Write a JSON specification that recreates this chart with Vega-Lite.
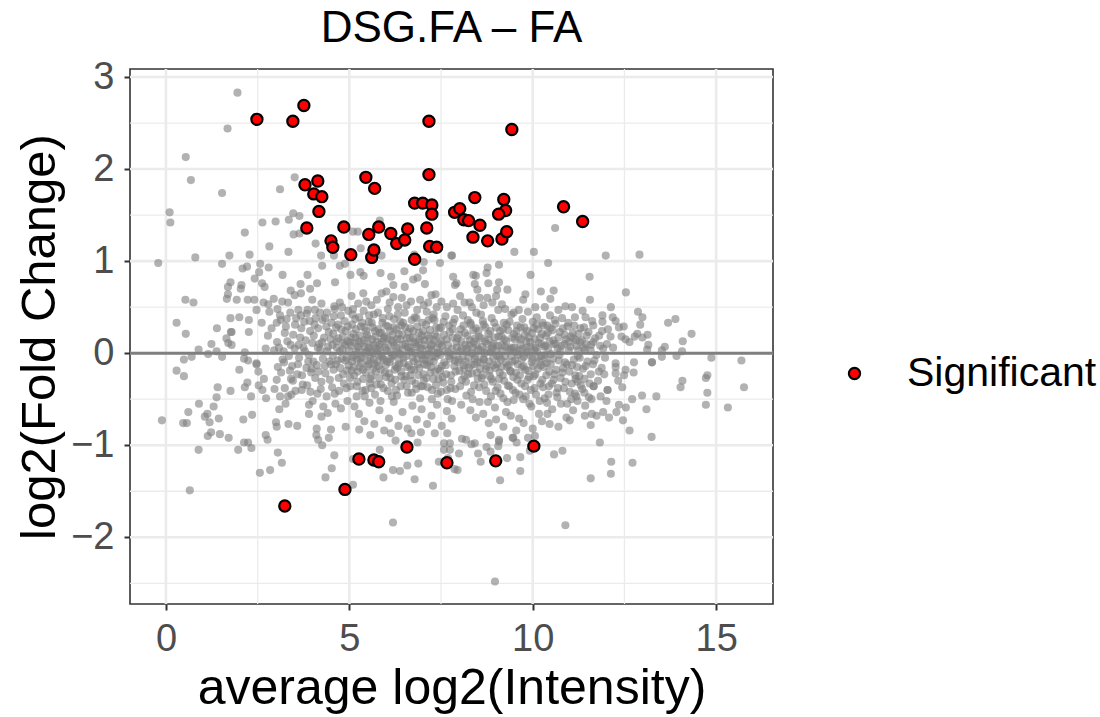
{"$schema":"https://vega.github.io/schema/vega-lite/v6.json","width":643,"height":535,"autosize":"none","padding":{"left":130,"top":69,"right":327,"bottom":113},"background":"white","title":{"text":"DSG.FA – FA","font":"Liberation Sans","fontSize":44,"fontWeight":"normal","color":"black","anchor":"middle","offset":7},"config":{"view":{"stroke":"#333333","strokeWidth":1.6}},"datasets":{"grid_major_x":[{"v":0},{"v":5},{"v":10},{"v":15}],"grid_minor_x":[{"v":2.5},{"v":7.5},{"v":12.5}],"grid_major_y":[{"v":3},{"v":2},{"v":1},{"v":0},{"v":-1},{"v":-2}],"grid_minor_y":[{"v":2.5},{"v":1.5},{"v":0.5},{"v":-0.5},{"v":-1.5},{"v":-2.5}],"zero":[{"v":0}],"sig":[{"a":2.48,"m":2.54,"s":"Significant"},{"a":3.46,"m":2.52,"s":"Significant"},{"a":3.76,"m":2.69,"s":"Significant"},{"a":7.17,"m":2.52,"s":"Significant"},{"a":9.43,"m":2.43,"s":"Significant"},{"a":7.17,"m":1.94,"s":"Significant"},{"a":5.45,"m":1.91,"s":"Significant"},{"a":5.69,"m":1.79,"s":"Significant"},{"a":4.14,"m":1.87,"s":"Significant"},{"a":3.79,"m":1.83,"s":"Significant"},{"a":4.03,"m":1.73,"s":"Significant"},{"a":4.25,"m":1.7,"s":"Significant"},{"a":4.17,"m":1.54,"s":"Significant"},{"a":3.84,"m":1.36,"s":"Significant"},{"a":4.85,"m":1.37,"s":"Significant"},{"a":4.5,"m":1.22,"s":"Significant"},{"a":4.55,"m":1.15,"s":"Significant"},{"a":5.04,"m":1.07,"s":"Significant"},{"a":5.53,"m":1.29,"s":"Significant"},{"a":5.8,"m":1.37,"s":"Significant"},{"a":6.13,"m":1.3,"s":"Significant"},{"a":6.29,"m":1.19,"s":"Significant"},{"a":6.51,"m":1.23,"s":"Significant"},{"a":6.59,"m":1.35,"s":"Significant"},{"a":5.61,"m":1.04,"s":"Significant"},{"a":5.67,"m":1.12,"s":"Significant"},{"a":6.78,"m":1.02,"s":"Significant"},{"a":6.78,"m":1.63,"s":"Significant"},{"a":7.0,"m":1.63,"s":"Significant"},{"a":7.25,"m":1.61,"s":"Significant"},{"a":7.25,"m":1.51,"s":"Significant"},{"a":7.11,"m":1.36,"s":"Significant"},{"a":7.19,"m":1.16,"s":"Significant"},{"a":7.38,"m":1.15,"s":"Significant"},{"a":7.87,"m":1.53,"s":"Significant"},{"a":8.01,"m":1.57,"s":"Significant"},{"a":8.12,"m":1.45,"s":"Significant"},{"a":8.25,"m":1.44,"s":"Significant"},{"a":8.42,"m":1.69,"s":"Significant"},{"a":9.21,"m":1.67,"s":"Significant"},{"a":9.26,"m":1.55,"s":"Significant"},{"a":9.07,"m":1.51,"s":"Significant"},{"a":8.56,"m":1.39,"s":"Significant"},{"a":8.37,"m":1.26,"s":"Significant"},{"a":8.77,"m":1.22,"s":"Significant"},{"a":9.16,"m":1.24,"s":"Significant"},{"a":9.29,"m":1.32,"s":"Significant"},{"a":10.84,"m":1.59,"s":"Significant"},{"a":11.36,"m":1.43,"s":"Significant"},{"a":3.24,"m":-1.66,"s":"Significant"},{"a":4.88,"m":-1.48,"s":"Significant"},{"a":5.26,"m":-1.15,"s":"Significant"},{"a":5.67,"m":-1.16,"s":"Significant"},{"a":5.8,"m":-1.18,"s":"Significant"},{"a":6.57,"m":-1.02,"s":"Significant"},{"a":7.66,"m":-1.19,"s":"Significant"},{"a":8.99,"m":-1.17,"s":"Significant"},{"a":10.03,"m":-1.01,"s":"Significant"}],"ns":[{"a":1.95,"m":2.83},{"a":1.68,"m":2.44},{"a":0.54,"m":2.13},{"a":0.68,"m":1.88},{"a":1.53,"m":1.74},{"a":0.1,"m":1.53},{"a":0.12,"m":1.42},{"a":-0.21,"m":0.98},{"a":0.8,"m":1.04},{"a":1.73,"m":1.06},{"a":1.53,"m":0.97},{"a":2.28,"m":1.07},{"a":2.15,"m":1.31},{"a":2.82,"m":1.16},{"a":2.63,"m":1.42},{"a":2.99,"m":1.43},{"a":3.11,"m":1.78},{"a":3.51,"m":1.91},{"a":3.47,"m":1.52},{"a":3.64,"m":1.49},{"a":3.35,"m":1.45},{"a":3.48,"m":1.29},{"a":3.64,"m":1.3},{"a":3.34,"m":1.1},{"a":4.08,"m":1.19},{"a":4.23,"m":1.06},{"a":4.58,"m":1.06},{"a":4.26,"m":0.95},{"a":4.74,"m":0.95},{"a":4.88,"m":0.97},{"a":2.57,"m":0.97},{"a":2.21,"m":0.94},{"a":2.09,"m":0.92},{"a":2.8,"m":0.93},{"a":2.54,"m":0.88},{"a":2.42,"m":0.81},{"a":3.18,"m":0.85},{"a":3.86,"m":0.85},{"a":2.62,"m":0.76},{"a":2.69,"m":0.72},{"a":2.06,"m":0.74},{"a":2.04,"m":0.7},{"a":1.76,"m":0.77},{"a":1.69,"m":0.72},{"a":1.69,"m":0.64},{"a":1.66,"m":0.59},{"a":1.93,"m":0.58},{"a":2.23,"m":0.58},{"a":2.41,"m":0.58},{"a":0.53,"m":0.58},{"a":0.75,"m":0.55},{"a":0.29,"m":0.33},{"a":0.54,"m":0.21},{"a":1.39,"m":0.27},{"a":1.76,"m":0.38},{"a":2.0,"m":0.39},{"a":2.26,"m":0.36},{"a":1.79,"m":0.23},{"a":2.26,"m":0.23},{"a":5.1,"m":1.32},{"a":5.23,"m":1.32},{"a":5.31,"m":1.14},{"a":5.83,"m":1.44},{"a":5.88,"m":1.06},{"a":5.03,"m":0.85},{"a":5.3,"m":0.88},{"a":5.39,"m":0.84},{"a":5.85,"m":0.87},{"a":6.14,"m":0.83},{"a":6.2,"m":0.74},{"a":6.5,"m":0.89},{"a":6.51,"m":0.72},{"a":6.74,"m":0.8},{"a":6.86,"m":0.82},{"a":7.01,"m":0.9},{"a":7.03,"m":0.99},{"a":7.47,"m":0.98},{"a":7.78,"m":1.06},{"a":6.77,"m":1.07},{"a":7.06,"m":0.75},{"a":7.24,"m":0.63},{"a":7.35,"m":0.64},{"a":7.83,"m":0.83},{"a":7.88,"m":0.74},{"a":4.61,"m":0.77},{"a":4.12,"m":0.76},{"a":3.93,"m":0.7},{"a":3.67,"m":0.75},{"a":3.4,"m":0.68},{"a":3.68,"m":0.65},{"a":10.61,"m":1.36},{"a":9.5,"m":1.1},{"a":10.03,"m":1.1},{"a":11.99,"m":1.06},{"a":12.91,"m":1.07},{"a":10.42,"m":0.98},{"a":9.08,"m":0.96},{"a":8.77,"m":0.93},{"a":8.74,"m":0.87},{"a":8.38,"m":0.85},{"a":8.45,"m":0.84},{"a":7.8,"m":1.06},{"a":9.94,"m":0.85},{"a":11.55,"m":0.83},{"a":7.92,"m":0.76},{"a":8.42,"m":0.75},{"a":8.79,"m":0.76},{"a":9.08,"m":0.77},{"a":8.49,"m":0.69},{"a":9.03,"m":0.69},{"a":9.31,"m":0.69},{"a":10.57,"m":0.68},{"a":10.22,"m":0.67},{"a":12.54,"m":0.66},{"a":9.8,"m":0.64},{"a":9.74,"m":0.58},{"a":10.48,"m":0.59},{"a":11.56,"m":0.58},{"a":12.13,"m":0.5},{"a":10.89,"m":0.51},{"a":11.07,"m":0.5},{"a":10.7,"m":0.47},{"a":10.33,"m":0.5},{"a":10.07,"m":0.5},{"a":9.16,"m":0.53},{"a":11.36,"m":0.46},{"a":12.87,"m":0.45},{"a":12.99,"m":0.39},{"a":13.89,"m":0.37},{"a":13.69,"m":0.33},{"a":12.93,"m":0.31},{"a":11.9,"m":0.41},{"a":12.18,"m":0.39},{"a":11.44,"m":0.39},{"a":11.15,"m":0.39},{"a":14.33,"m":0.21},{"a":14.09,"m":0.13},{"a":13.6,"m":0.07},{"a":13.52,"m":0.03},{"a":13.12,"m":0.04},{"a":13.15,"m":0.09},{"a":13.13,"m":0.2},{"a":12.85,"m":0.21},{"a":12.78,"m":0.18},{"a":12.99,"m":0.17},{"a":12.64,"m":0.12},{"a":12.53,"m":0.15},{"a":12.42,"m":0.18},{"a":12.48,"m":0.29},{"a":12.35,"m":0.28},{"a":12.26,"m":0.35},{"a":11.9,"m":0.34},{"a":11.62,"m":0.35},{"a":11.65,"m":0.3},{"a":12.05,"m":0.26},{"a":11.89,"m":0.24},{"a":12.12,"m":0.18},{"a":11.81,"m":0.19},{"a":11.65,"m":0.12},{"a":11.42,"m":0.04},{"a":11.92,"m":0.05},{"a":12.19,"m":0.06},{"a":13.52,"m":-0.04},{"a":13.92,"m":-0.03},{"a":14.07,"m":0.02},{"a":14.87,"m":-0.05},{"a":15.69,"m":-0.08},{"a":13.25,"m":-0.1},{"a":13.25,"m":-0.1},{"a":12.76,"m":-0.1},{"a":12.26,"m":-0.11},{"a":12.26,"m":-0.15},{"a":12.53,"m":-0.18},{"a":12.75,"m":-0.21},{"a":12.49,"m":-0.24},{"a":12.26,"m":-0.22},{"a":12.33,"m":-0.3},{"a":12.44,"m":-0.37},{"a":14.08,"m":-0.3},{"a":14.03,"m":-0.37},{"a":14.72,"m":-0.27},{"a":14.76,"m":-0.24},{"a":15.76,"m":-0.37},{"a":14.76,"m":-0.43},{"a":14.72,"m":-0.56},{"a":15.32,"m":-0.59},{"a":13.37,"m":-0.47},{"a":12.98,"m":-0.46},{"a":12.71,"m":-0.5},{"a":13.1,"m":-0.61},{"a":12.54,"m":-0.59},{"a":12.46,"m":-0.73},{"a":12.64,"m":-0.84},{"a":13.24,"m":-0.91},{"a":12.04,"m":-0.4},{"a":12.04,"m":-0.4},{"a":11.66,"m":-0.36},{"a":11.66,"m":-0.36},{"a":11.95,"m":-0.23},{"a":11.8,"m":-0.2},{"a":11.58,"m":-0.23},{"a":11.41,"m":-0.28},{"a":11.22,"m":-0.31},{"a":11.41,"m":-0.43},{"a":11.19,"m":-0.47},{"a":11.6,"m":-0.5},{"a":11.85,"m":-0.47},{"a":12.01,"m":-0.52},{"a":12.35,"m":-0.56},{"a":12.28,"m":-0.64},{"a":11.92,"m":-0.64},{"a":11.74,"m":-0.68},{"a":11.42,"m":-0.68},{"a":11.58,"m":-0.78},{"a":11.01,"m":-0.73},{"a":10.46,"m":-0.77},{"a":10.06,"m":-0.9},{"a":9.87,"m":-0.92},{"a":9.47,"m":-0.92},{"a":9.08,"m":-0.94},{"a":11.83,"m":-0.97},{"a":10.58,"m":-1.1},{"a":10.81,"m":-1.06},{"a":12.14,"m":-1.18},{"a":12.72,"m":-1.19},{"a":12.13,"m":-1.31},{"a":11.58,"m":-1.36},{"a":10.89,"m":-1.87},{"a":8.97,"m":-2.48},{"a":9.66,"m":-1.28},{"a":9.66,"m":-1.13},{"a":9.3,"m":-1.14},{"a":9.11,"m":-1.38},{"a":8.58,"m":-1.18},{"a":8.51,"m":-1.09},{"a":7.95,"m":-1.27},{"a":7.99,"m":-1.09},{"a":9.06,"m":-1.01},{"a":9.08,"m":-0.96},{"a":8.85,"m":-1.07},{"a":8.74,"m":-1.02},{"a":8.42,"m":-0.98},{"a":8.33,"m":-0.99},{"a":8.18,"m":-0.94},{"a":8.07,"m":-0.93},{"a":8.85,"m":-0.89},{"a":9.45,"m":-0.92},{"a":9.56,"m":-0.97},{"a":9.92,"m":-1.06},{"a":7.74,"m":-0.98},{"a":0.65,"m":-1.49},{"a":0.89,"m":-1.05},{"a":1.14,"m":-0.9},{"a":1.23,"m":-0.86},{"a":1.47,"m":-0.88},{"a":1.71,"m":-0.92},{"a":1.97,"m":-1.05},{"a":2.13,"m":-0.97},{"a":2.24,"m":-0.97},{"a":2.33,"m":-1.03},{"a":2.72,"m":-0.89},{"a":2.77,"m":-0.94},{"a":3.05,"m":-1.08},{"a":3.16,"m":-1.19},{"a":2.56,"m":-1.3},{"a":2.84,"m":-1.27},{"a":4.1,"m":-0.89},{"a":4.15,"m":-0.94},{"a":4.26,"m":-1.0},{"a":4.44,"m":-0.92},{"a":4.59,"m":-1.11},{"a":4.52,"m":-1.25},{"a":4.35,"m":-1.35},{"a":5.1,"m":-1.43},{"a":5.1,"m":-1.15},{"a":5.57,"m":-0.89},{"a":5.83,"m":-1.05},{"a":6.26,"m":-0.95},{"a":6.19,"m":-1.27},{"a":6.38,"m":-1.28},{"a":5.93,"m":-1.35},{"a":6.58,"m":-1.22},{"a":6.88,"m":-1.2},{"a":6.78,"m":-1.37},{"a":6.86,"m":-0.97},{"a":7.28,"m":-1.44},{"a":7.44,"m":-1.18},{"a":6.19,"m":-1.84},{"a":7.58,"m":-0.98},{"a":7.74,"m":-1.05},{"a":7.58,"m":-1.05},{"a":7.69,"m":-1.14},{"a":7.87,"m":-1.26},{"a":6.69,"m":-0.87},{"a":6.95,"m":-0.86},{"a":7.33,"m":-0.87},{"a":7.67,"m":-0.87},{"a":6.13,"m":-0.87},{"a":0.89,"m":0.04},{"a":1.24,"m":0.1},{"a":0.7,"m":-0.04},{"a":0.49,"m":-0.07},{"a":0.29,"m":-0.19},{"a":0.49,"m":-0.25},{"a":1.15,"m":-0.01},{"a":1.38,"m":0.02},{"a":1.53,"m":-0.04},{"a":1.65,"m":0.16},{"a":1.7,"m":0.11},{"a":1.79,"m":0.09},{"a":1.77,"m":0.23},{"a":2.15,"m":0.01},{"a":2.13,"m":-0.06},{"a":2.24,"m":-0.08},{"a":2.0,"m":-0.18},{"a":2.47,"m":-0.12},{"a":2.47,"m":-0.11},{"a":2.52,"m":-0.2},{"a":2.67,"m":-0.28},{"a":2.53,"m":-0.35},{"a":2.22,"m":-0.32},{"a":2.15,"m":-0.37},{"a":1.41,"m":-0.37},{"a":1.76,"m":-0.41},{"a":1.38,"m":-0.48},{"a":0.9,"m":-0.55},{"a":1.3,"m":-0.58},{"a":0.61,"m":-0.64},{"a":1.13,"m":-0.66},{"a":1.06,"m":-0.69},{"a":1.19,"m":-0.75},{"a":1.44,"m":-0.71},{"a":-0.11,"m":-0.73},{"a":0.47,"m":-0.76},{"a":0.57,"m":-0.76},{"a":2.11,"m":-0.72},{"a":2.35,"m":-0.67},{"a":2.32,"m":-0.47},{"a":2.63,"m":-0.4},{"a":2.73,"m":-0.49},{"a":2.96,"m":-0.39},{"a":3.02,"m":-0.29},{"a":3.24,"m":-0.38},{"a":3.11,"m":-0.47},{"a":3.33,"m":-0.47},{"a":3.42,"m":-0.45},{"a":3.26,"m":-0.55},{"a":3.09,"m":-0.61},{"a":3.0,"m":-0.75},{"a":3.02,"m":-0.8},{"a":3.34,"m":-0.77},{"a":3.58,"m":-0.79},{"a":3.9,"m":-0.56},{"a":3.9,"m":-0.66},{"a":4.13,"m":-0.44},{"a":4.24,"m":-0.69},{"a":4.29,"m":-0.58},{"a":4.41,"m":-0.65},{"a":4.11,"m":-0.82},{"a":4.5,"m":-0.83},{"a":4.9,"m":-0.8},{"a":5.27,"m":-0.83},{"a":4.95,"m":-0.52},{"a":5.42,"m":-0.47},{"a":2.94,"m":0.59},{"a":2.66,"m":0.55},{"a":2.79,"m":0.53},{"a":2.47,"m":0.47},{"a":2.82,"m":0.45},{"a":3.04,"m":0.48},{"a":3.17,"m":0.56},{"a":3.33,"m":0.55},{"a":3.51,"m":0.63},{"a":3.61,"m":0.47},{"a":3.86,"m":0.47},{"a":3.99,"m":0.58},{"a":4.24,"m":0.54},{"a":4.6,"m":0.48},{"a":4.74,"m":0.55},{"a":5.06,"m":0.62},{"a":5.24,"m":0.54},{"a":5.38,"m":0.65},{"a":5.88,"m":0.65},{"a":6.01,"m":0.67},{"a":6.2,"m":0.61},{"a":6.33,"m":0.5},{"a":6.68,"m":0.56},{"a":7.03,"m":0.52},{"a":7.38,"m":0.5},{"a":7.51,"m":0.56},{"a":7.83,"m":0.54},{"a":2.61,"m":0.33},{"a":2.78,"m":0.19},{"a":2.88,"m":0.27},{"a":3.02,"m":0.33},{"a":3.13,"m":0.36},{"a":3.24,"m":0.22},{"a":3.4,"m":0.09},{"a":3.52,"m":0.31},{"a":3.66,"m":0.17},{"a":3.77,"m":0.34},{"a":3.93,"m":0.24},{"a":3.99,"m":0.11},{"a":4.08,"m":0.38},{"a":4.21,"m":0.04},{"a":4.37,"m":0.29},{"a":4.49,"m":0.15},{"a":4.58,"m":0.4},{"a":4.66,"m":0.06},{"a":4.78,"m":0.26},{"a":4.87,"m":0.35},{"a":4.95,"m":0.13},{"a":2.72,"m":0.05},{"a":2.95,"m":0.03},{"a":3.08,"m":0.06},{"a":3.21,"m":0.02},{"a":3.35,"m":-0.03},{"a":3.51,"m":0.05},{"a":3.63,"m":-0.05},{"a":3.79,"m":0.02},{"a":3.9,"m":-0.02},{"a":4.02,"m":-0.09},{"a":4.14,"m":0.06},{"a":4.28,"m":-0.06},{"a":4.4,"m":0.02},{"a":4.55,"m":-0.03},{"a":4.68,"m":-0.08},{"a":4.81,"m":0.04},{"a":4.93,"m":-0.05},{"a":3.05,"m":-0.15},{"a":3.22,"m":-0.1},{"a":3.38,"m":-0.19},{"a":3.46,"m":-0.3},{"a":3.6,"m":-0.12},{"a":3.71,"m":-0.24},{"a":3.85,"m":-0.35},{"a":3.97,"m":-0.17},{"a":4.07,"m":-0.27},{"a":4.22,"m":-0.39},{"a":4.33,"m":-0.14},{"a":4.47,"m":-0.29},{"a":4.57,"m":-0.18},{"a":4.72,"m":-0.41},{"a":4.83,"m":-0.23},{"a":4.98,"m":-0.13},{"a":3.7,"m":-0.4},{"a":4.0,"m":-0.52},{"a":4.62,"m":-0.55},{"a":4.77,"m":-0.6},{"a":5.03,"m":-0.36},{"a":5.14,"m":-0.58},{"a":5.26,"m":-0.66},{"a":5.41,"m":-0.74},{"a":5.55,"m":-0.54},{"a":5.68,"m":-0.77},{"a":5.82,"m":-0.62},{"a":5.95,"m":-0.84},{"a":6.08,"m":-0.71},{"a":6.21,"m":-0.53},{"a":6.34,"m":-0.79},{"a":6.45,"m":-0.64},{"a":6.59,"m":-0.82},{"a":6.72,"m":-0.57},{"a":6.84,"m":-0.72},{"a":6.97,"m":-0.61},{"a":7.12,"m":-0.77},{"a":7.24,"m":-0.68},{"a":7.39,"m":-0.56},{"a":7.52,"m":-0.79},{"a":7.66,"m":-0.63},{"a":7.79,"m":-0.71},{"a":5.05,"m":0.08},{"a":5.08,"m":-0.09},{"a":5.11,"m":0.21},{"a":5.13,"m":-0.24},{"a":5.16,"m":0.37},{"a":5.19,"m":0.02},{"a":5.22,"m":-0.31},{"a":5.25,"m":0.13},{"a":5.28,"m":-0.15},{"a":5.31,"m":0.29},{"a":5.34,"m":-0.04},{"a":5.36,"m":-0.41},{"a":5.39,"m":0.46},{"a":5.42,"m":0.07},{"a":5.45,"m":-0.21},{"a":5.48,"m":0.2},{"a":5.51,"m":-0.08},{"a":5.53,"m":0.34},{"a":5.56,"m":-0.33},{"a":5.59,"m":0.01},{"a":5.62,"m":0.15},{"a":5.65,"m":-0.17},{"a":5.67,"m":0.42},{"a":5.7,"m":-0.45},{"a":5.73,"m":0.05},{"a":5.76,"m":-0.1},{"a":5.79,"m":0.26},{"a":5.81,"m":-0.27},{"a":5.84,"m":0.1},{"a":5.87,"m":-0.03},{"a":5.9,"m":0.33},{"a":5.93,"m":-0.38},{"a":5.96,"m":0.18},{"a":5.99,"m":-0.13},{"a":6.02,"m":0.03},{"a":6.05,"m":0.48},{"a":6.08,"m":-0.22},{"a":6.11,"m":0.24},{"a":6.13,"m":-0.06},{"a":6.16,"m":-0.47},{"a":6.19,"m":0.12},{"a":6.22,"m":0.37},{"a":6.25,"m":-0.29},{"a":6.28,"m":0.06},{"a":6.31,"m":-0.16},{"a":6.34,"m":0.21},{"a":6.37,"m":-0.01},{"a":6.4,"m":-0.36},{"a":6.42,"m":0.3},{"a":6.45,"m":0.09},{"a":6.48,"m":-0.11},{"a":6.51,"m":0.44},{"a":6.54,"m":-0.25},{"a":6.57,"m":0.16},{"a":6.6,"m":-0.43},{"a":6.63,"m":0.02},{"a":6.66,"m":0.27},{"a":6.69,"m":-0.18},{"a":6.72,"m":-0.05},{"a":6.75,"m":0.12},{"a":6.78,"m":0.39},{"a":6.81,"m":-0.33},{"a":6.84,"m":0.07},{"a":6.87,"m":-0.12},{"a":6.9,"m":0.22},{"a":6.93,"m":-0.49},{"a":6.96,"m":-0.02},{"a":6.99,"m":0.33},{"a":7.02,"m":-0.23},{"a":7.05,"m":0.14},{"a":7.08,"m":-0.08},{"a":7.11,"m":0.45},{"a":7.14,"m":-0.37},{"a":7.17,"m":0.04},{"a":7.2,"m":0.25},{"a":7.23,"m":-0.15},{"a":7.26,"m":0.1},{"a":7.29,"m":-0.28},{"a":7.32,"m":0.36},{"a":7.35,"m":-0.04},{"a":7.38,"m":0.18},{"a":7.41,"m":-0.44},{"a":7.44,"m":0.01},{"a":7.47,"m":-0.19},{"a":7.5,"m":0.28},{"a":7.53,"m":0.08},{"a":7.56,"m":-0.32},{"a":7.59,"m":-0.1},{"a":7.62,"m":0.4},{"a":7.65,"m":0.15},{"a":7.68,"m":-0.5},{"a":7.71,"m":-0.03},{"a":7.74,"m":0.23},{"a":7.77,"m":-0.24},{"a":7.8,"m":0.05},{"a":7.83,"m":0.33},{"a":7.86,"m":-0.14},{"a":7.89,"m":-0.39},{"a":7.92,"m":0.12},{"a":7.95,"m":0.47},{"a":7.98,"m":-0.07},{"a":8.01,"m":0.02},{"a":8.04,"m":0.26},{"a":8.07,"m":-0.29},{"a":8.1,"m":0.41},{"a":8.13,"m":-0.17},{"a":8.16,"m":0.09},{"a":8.19,"m":-0.46},{"a":8.22,"m":0.19},{"a":8.25,"m":-0.05},{"a":8.28,"m":0.55},{"a":8.31,"m":0.31},{"a":8.34,"m":-0.22},{"a":8.37,"m":0.06},{"a":8.4,"m":-0.35},{"a":8.43,"m":0.16},{"a":8.46,"m":0.44},{"a":8.49,"m":-0.1},{"a":8.52,"m":0.24},{"a":8.55,"m":-0.53},{"a":8.58,"m":0.03},{"a":8.61,"m":-0.27},{"a":8.64,"m":0.35},{"a":8.67,"m":-0.07},{"a":8.7,"m":0.13},{"a":8.73,"m":-0.41},{"a":8.76,"m":0.6},{"a":8.79,"m":0.21},{"a":8.82,"m":-0.19},{"a":8.85,"m":0.01},{"a":8.88,"m":0.38},{"a":8.91,"m":-0.31},{"a":8.94,"m":0.1},{"a":8.97,"m":-0.59},{"a":9.0,"m":0.28},{"a":9.03,"m":-0.12},{"a":9.06,"m":0.47},{"a":9.09,"m":-0.04},{"a":9.12,"m":-0.44},{"a":9.15,"m":0.18},{"a":9.18,"m":-0.24},{"a":9.21,"m":0.33},{"a":9.24,"m":0.07},{"a":9.27,"m":-0.64},{"a":9.3,"m":-0.15},{"a":9.33,"m":0.25},{"a":9.36,"m":-0.36},{"a":9.39,"m":0.04},{"a":9.42,"m":0.42},{"a":9.45,"m":-0.09},{"a":9.48,"m":-0.51},{"a":9.51,"m":0.15},{"a":9.54,"m":-0.21},{"a":9.57,"m":0.3},{"a":9.6,"m":-0.02},{"a":9.63,"m":-0.71},{"a":9.66,"m":0.09},{"a":9.69,"m":-0.33},{"a":9.72,"m":0.37},{"a":9.75,"m":-0.14},{"a":9.78,"m":0.2},{"a":9.81,"m":-0.47},{"a":9.84,"m":0.01},{"a":9.87,"m":0.45},{"a":9.9,"m":-0.26},{"a":9.93,"m":0.12},{"a":9.96,"m":-0.58},{"a":9.99,"m":-0.06},{"a":10.02,"m":0.27},{"a":10.05,"m":-0.38},{"a":10.08,"m":0.06},{"a":10.11,"m":0.39},{"a":10.14,"m":-0.17},{"a":10.17,"m":-0.66},{"a":10.2,"m":0.17},{"a":10.23,"m":-0.03},{"a":10.26,"m":-0.29},{"a":10.29,"m":0.3},{"a":10.32,"m":-0.49},{"a":10.35,"m":0.08},{"a":10.38,"m":-0.11},{"a":10.41,"m":0.22},{"a":10.44,"m":-0.36},{"a":10.47,"m":0.41},{"a":10.5,"m":-0.01},{"a":10.53,"m":-0.61},{"a":10.56,"m":0.14},{"a":10.59,"m":-0.23},{"a":10.62,"m":0.32},{"a":10.65,"m":-0.43},{"a":10.68,"m":0.05},{"a":10.71,"m":-0.08},{"a":10.74,"m":0.23},{"a":10.77,"m":-0.55},{"a":10.8,"m":0.38},{"a":10.83,"m":-0.16},{"a":10.86,"m":0.1},{"a":10.89,"m":-0.31},{"a":10.92,"m":-0.7},{"a":10.95,"m":0.29},{"a":10.98,"m":0.03},{"a":11.01,"m":-0.42},{"a":11.04,"m":0.18},{"a":11.07,"m":-0.13},{"a":11.1,"m":-0.62},{"a":11.13,"m":0.3},{"a":11.16,"m":-0.24},{"a":11.19,"m":0.08},{"a":11.22,"m":-0.52},{"a":11.25,"m":0.21},{"a":11.28,"m":-0.05},{"a":11.31,"m":-0.35},{"a":11.34,"m":0.14},{"a":11.37,"m":-0.17},{"a":11.4,"m":0.28},{"a":11.43,"m":-0.57},{"a":11.46,"m":0.1},{"a":11.49,"m":-0.09},{"a":11.52,"m":0.23},{"a":11.55,"m":-0.33},{"a":11.58,"m":0.03},{"a":11.61,"m":-0.66},{"a":11.64,"m":-0.12},{"a":11.7,"m":0.16},{"a":11.74,"m":-0.02},{"a":11.78,"m":-0.3},{"a":11.84,"m":0.08},{"a":11.88,"m":-0.16},{"a":11.97,"m":-0.05},{"a":12.02,"m":0.1},{"a":12.08,"m":-0.7},{"a":5.1,"m":0.48},{"a":5.46,"m":0.56},{"a":5.6,"m":0.52},{"a":5.75,"m":0.58},{"a":6.1,"m":0.55},{"a":6.43,"m":0.6},{"a":6.56,"m":0.52},{"a":6.85,"m":0.47},{"a":6.93,"m":0.58},{"a":7.15,"m":0.55},{"a":7.3,"m":0.42},{"a":7.66,"m":0.5},{"a":8.02,"m":0.62},{"a":8.14,"m":0.55},{"a":8.34,"m":0.5},{"a":8.55,"m":0.6},{"a":8.66,"m":0.52},{"a":8.9,"m":0.55},{"a":9.0,"m":0.62},{"a":9.25,"m":0.48},{"a":9.48,"m":0.44},{"a":9.62,"m":0.47},{"a":5.2,"m":-0.47},{"a":5.6,"m":-0.38},{"a":5.85,"m":-0.52},{"a":6.05,"m":-0.41},{"a":6.3,"m":-0.46},{"a":6.7,"m":-0.43},{"a":7.0,"m":-0.36},{"a":7.25,"m":-0.5},{"a":7.5,"m":-0.42},{"a":7.8,"m":-0.52},{"a":8.05,"m":-0.56},{"a":8.3,"m":-0.62},{"a":8.45,"m":-0.7},{"a":8.65,"m":-0.66},{"a":8.8,"m":-0.76},{"a":9.0,"m":-0.72},{"a":9.2,"m":-0.8},{"a":9.4,"m":-0.68},{"a":9.55,"m":-0.84},{"a":9.75,"m":-0.76},{"a":10.0,"m":-0.82},{"a":10.25,"m":-0.74},{"a":10.4,"m":-0.66},{"a":10.7,"m":-0.8},{"a":3.03,"m":0.12},{"a":3.11,"m":0.41},{"a":3.18,"m":-0.07},{"a":3.27,"m":0.29},{"a":3.31,"m":0.13},{"a":3.39,"m":0.44},{"a":3.44,"m":-0.14},{"a":3.47,"m":0.2},{"a":3.55,"m":0.38},{"a":3.58,"m":-0.23},{"a":3.62,"m":0.09},{"a":3.69,"m":0.27},{"a":3.73,"m":-0.34},{"a":3.81,"m":0.14},{"a":3.84,"m":0.43},{"a":3.88,"m":-0.09},{"a":3.92,"m":0.35},{"a":3.96,"m":-0.21},{"a":4.03,"m":0.19},{"a":4.06,"m":0.47},{"a":4.11,"m":-0.13},{"a":4.15,"m":0.27},{"a":4.18,"m":0.1},{"a":4.24,"m":-0.31},{"a":4.27,"m":0.36},{"a":4.31,"m":0.17},{"a":4.35,"m":-0.22},{"a":4.39,"m":0.44},{"a":4.42,"m":0.07},{"a":4.46,"m":-0.09},{"a":4.51,"m":0.33},{"a":4.53,"m":-0.37},{"a":4.56,"m":0.21},{"a":4.59,"m":0.51},{"a":4.63,"m":-0.12},{"a":4.65,"m":0.13},{"a":4.69,"m":0.31},{"a":4.71,"m":-0.27},{"a":4.74,"m":0.02},{"a":4.77,"m":0.41},{"a":4.79,"m":-0.06},{"a":4.82,"m":0.18},{"a":4.85,"m":-0.33},{"a":4.88,"m":0.09},{"a":4.9,"m":0.24},{"a":4.94,"m":-0.19},{"a":4.97,"m":0.46},{"a":4.99,"m":0.03},{"a":5.02,"m":-0.27},{"a":5.04,"m":0.17},{"a":5.07,"m":0.31},{"a":5.09,"m":-0.04},{"a":5.12,"m":-0.15},{"a":5.15,"m":0.11},{"a":5.18,"m":0.26},{"a":5.21,"m":-0.07},{"a":5.23,"m":-0.2},{"a":5.26,"m":0.04},{"a":5.29,"m":0.19},{"a":5.32,"m":-0.11},{"a":5.35,"m":0.33},{"a":5.38,"m":-0.28},{"a":5.4,"m":0.14},{"a":5.43,"m":0.0},{"a":5.46,"m":0.24},{"a":5.49,"m":-0.14},{"a":5.52,"m":0.06},{"a":5.54,"m":0.41},{"a":5.57,"m":-0.05},{"a":5.6,"m":-0.25},{"a":5.63,"m":0.28},{"a":5.66,"m":0.09},{"a":5.68,"m":-0.12},{"a":5.71,"m":0.18},{"a":5.74,"m":-0.34},{"a":5.77,"m":0.03},{"a":5.8,"m":-0.02},{"a":5.83,"m":0.22},{"a":5.86,"m":-0.18},{"a":5.89,"m":0.13},{"a":5.91,"m":0.38},{"a":5.94,"m":-0.07},{"a":5.97,"m":0.06},{"a":6.0,"m":-0.26},{"a":6.03,"m":0.16},{"a":6.06,"m":0.29},{"a":6.09,"m":-0.1},{"a":6.12,"m":0.01},{"a":6.15,"m":-0.33},{"a":6.18,"m":0.2},{"a":6.2,"m":-0.02},{"a":6.23,"m":0.08},{"a":6.26,"m":-0.14},{"a":6.29,"m":0.26},{"a":6.32,"m":0.42},{"a":6.35,"m":-0.07},{"a":6.38,"m":0.15},{"a":6.41,"m":-0.2},{"a":6.44,"m":0.04},{"a":6.47,"m":0.33},{"a":6.5,"m":-0.29},{"a":6.53,"m":0.1},{"a":6.55,"m":-0.03},{"a":6.58,"m":-0.15},{"a":6.61,"m":0.23},{"a":6.64,"m":0.06},{"a":6.67,"m":-0.24},{"a":6.7,"m":0.36},{"a":6.73,"m":0.17},{"a":6.76,"m":-0.09},{"a":6.79,"m":0.0},{"a":6.82,"m":-0.39},{"a":6.85,"m":0.29},{"a":6.88,"m":0.12},{"a":6.91,"m":-0.16},{"a":6.94,"m":0.05},{"a":6.97,"m":0.19},{"a":7.0,"m":-0.06},{"a":7.03,"m":-0.3},{"a":7.06,"m":0.09},{"a":7.09,"m":0.31},{"a":7.12,"m":-0.13},{"a":7.15,"m":-0.01},{"a":7.18,"m":0.16},{"a":7.21,"m":-0.21},{"a":7.24,"m":0.03},{"a":7.27,"m":0.38},{"a":7.3,"m":-0.09},{"a":7.33,"m":0.2},{"a":7.36,"m":-0.35},{"a":7.39,"m":0.06},{"a":7.42,"m":-0.17},{"a":7.45,"m":0.27},{"a":7.48,"m":-0.02},{"a":7.51,"m":0.13},{"a":7.54,"m":-0.26},{"a":7.57,"m":0.34},{"a":7.6,"m":0.02},{"a":7.63,"m":-0.13},{"a":7.66,"m":-0.4},{"a":7.69,"m":0.09},{"a":7.72,"m":0.3},{"a":7.75,"m":-0.06},{"a":7.78,"m":-0.31},{"a":7.81,"m":0.17},{"a":7.84,"m":-0.02},{"a":7.87,"m":0.37},{"a":7.9,"m":-0.2},{"a":7.93,"m":0.06},{"a":7.96,"m":-0.1},{"a":7.99,"m":0.2},{"a":8.02,"m":-0.36},{"a":8.05,"m":0.13},{"a":8.08,"m":-0.04},{"a":8.11,"m":0.3},{"a":8.14,"m":-0.25},{"a":8.17,"m":-0.09},{"a":8.2,"m":0.05},{"a":8.23,"m":0.36},{"a":8.26,"m":-0.16},{"a":8.29,"m":0.14},{"a":8.32,"m":-0.42},{"a":8.35,"m":0.0},{"a":8.38,"m":0.25},{"a":8.41,"m":-0.12},{"a":8.44,"m":-0.03},{"a":8.47,"m":0.09},{"a":8.5,"m":-0.28},{"a":8.53,"m":0.18},{"a":8.56,"m":-0.17},{"a":8.59,"m":0.42},{"a":8.62,"m":0.07},{"a":8.65,"m":-0.06},{"a":8.68,"m":-0.34},{"a":8.71,"m":0.28},{"a":8.74,"m":-0.14},{"a":8.77,"m":0.02},{"a":8.8,"m":0.15},{"a":8.83,"m":-0.25},{"a":8.86,"m":-0.47},{"a":8.89,"m":0.08},{"a":8.92,"m":-0.05},{"a":8.95,"m":0.33},{"a":8.98,"m":-0.16},{"a":9.01,"m":0.03},{"a":9.04,"m":-0.37},{"a":9.07,"m":0.18},{"a":9.1,"m":-0.21},{"a":9.13,"m":-0.07},{"a":9.16,"m":0.09},{"a":9.19,"m":0.26},{"a":9.22,"m":-0.3},{"a":9.25,"m":-0.03},{"a":9.28,"m":0.13},{"a":9.31,"m":-0.53},{"a":9.34,"m":-0.13},{"a":9.37,"m":0.34},{"a":9.4,"m":-0.2},{"a":9.43,"m":0.06},{"a":9.46,"m":-0.4},{"a":9.49,"m":0.21},{"a":9.52,"m":-0.08},{"a":9.55,"m":0.01},{"a":9.58,"m":-0.29},{"a":9.61,"m":0.17},{"a":9.64,"m":-0.45},{"a":9.67,"m":0.28},{"a":9.7,"m":-0.15},{"a":9.73,"m":0.05},{"a":9.76,"m":-0.04},{"a":9.79,"m":-0.36},{"a":9.82,"m":0.13},{"a":9.85,"m":0.24},{"a":9.88,"m":-0.19},{"a":9.91,"m":-0.55},{"a":9.94,"m":0.07},{"a":9.97,"m":-0.1},{"a":10.0,"m":0.34},{"a":10.03,"m":-0.25},{"a":10.06,"m":0.15},{"a":10.09,"m":-0.45},{"a":10.12,"m":0.02},{"a":10.15,"m":0.26},{"a":10.18,"m":-0.09},{"a":10.21,"m":-0.33},{"a":10.24,"m":0.1},{"a":10.27,"m":0.33},{"a":10.3,"m":-0.15},{"a":10.33,"m":-0.02},{"a":10.36,"m":0.19},{"a":10.39,"m":-0.54},{"a":10.42,"m":0.05},{"a":10.45,"m":-0.2},{"a":10.48,"m":0.27},{"a":10.52,"m":-0.33},{"a":10.55,"m":-0.06},{"a":10.58,"m":0.1},{"a":10.6,"m":0.36},{"a":10.64,"m":-0.18},{"a":10.67,"m":-0.48},{"a":10.7,"m":0.17},{"a":10.73,"m":-0.02},{"a":10.76,"m":-0.27},{"a":10.79,"m":0.08},{"a":10.82,"m":0.27},{"a":10.85,"m":-0.38},{"a":10.88,"m":-0.1},{"a":10.91,"m":0.15},{"a":10.94,"m":-0.55},{"a":10.97,"m":0.33},{"a":11.0,"m":-0.2},{"a":11.03,"m":0.07},{"a":11.06,"m":-0.33},{"a":11.09,"m":0.22},{"a":11.12,"m":-0.07},{"a":11.15,"m":-0.44},{"a":11.18,"m":0.14},{"a":11.21,"m":-0.15},{"a":11.24,"m":0.03},{"a":11.27,"m":-0.25},{"a":11.3,"m":0.27},{"a":11.35,"m":-0.39},{"a":11.38,"m":0.06},{"a":11.44,"m":-0.14},{"a":11.47,"m":0.19},{"a":11.53,"m":-0.48},{"a":11.59,"m":0.09},{"a":11.68,"m":-0.08},{"a":3.14,"m":-0.21},{"a":3.29,"m":0.37},{"a":3.41,"m":-0.28},{"a":3.53,"m":-0.41},{"a":3.68,"m":0.41},{"a":3.75,"m":0.06},{"a":3.83,"m":-0.16},{"a":3.94,"m":-0.42},{"a":4.05,"m":0.31},{"a":4.16,"m":-0.2},{"a":4.2,"m":0.44},{"a":4.26,"m":0.12},{"a":4.34,"m":0.38},{"a":4.38,"m":-0.47},{"a":4.44,"m":0.23},{"a":4.5,"m":-0.12},{"a":4.54,"m":0.09},{"a":4.6,"m":-0.44},{"a":4.64,"m":0.28},{"a":4.7,"m":0.16},{"a":4.75,"m":-0.16},{"a":4.8,"m":0.5},{"a":4.84,"m":0.11},{"a":4.89,"m":-0.08},{"a":4.92,"m":-0.38},{"a":4.96,"m":0.29},{"a":5.01,"m":0.12},{"a":5.06,"m":-0.19},{"a":5.09,"m":0.42},{"a":5.14,"m":-0.02},{"a":5.17,"m":0.17},{"a":5.2,"m":-0.36},{"a":5.24,"m":0.07},{"a":5.27,"m":0.39},{"a":5.3,"m":-0.06},{"a":5.33,"m":0.11},{"a":5.37,"m":-0.18},{"a":5.41,"m":0.28},{"a":5.44,"m":-0.4},{"a":5.47,"m":0.02},{"a":5.5,"m":0.16},{"a":5.53,"m":-0.12},{"a":5.55,"m":0.08},{"a":5.58,"m":-0.28},{"a":5.61,"m":0.33},{"a":5.64,"m":0.0},{"a":5.67,"m":-0.07},{"a":5.7,"m":0.24},{"a":5.72,"m":-0.2},{"a":5.75,"m":0.12},{"a":5.78,"m":0.44},{"a":5.8,"m":-0.14},{"a":5.83,"m":0.05},{"a":5.86,"m":-0.34},{"a":5.88,"m":0.22},{"a":5.91,"m":-0.05},{"a":5.94,"m":0.16},{"a":5.97,"m":-0.21},{"a":6.0,"m":0.3},{"a":6.03,"m":-0.09},{"a":6.06,"m":0.09},{"a":6.09,"m":0.4},{"a":6.12,"m":-0.27},{"a":6.15,"m":0.14},{"a":6.18,"m":-0.03},{"a":6.21,"m":0.28},{"a":6.24,"m":-0.18},{"a":6.27,"m":-0.4},{"a":6.3,"m":0.15},{"a":6.33,"m":0.01},{"a":6.36,"m":-0.12},{"a":6.39,"m":0.34},{"a":6.42,"m":-0.25},{"a":6.45,"m":0.2},{"a":6.48,"m":-0.05},{"a":6.52,"m":0.28},{"a":6.56,"m":-0.36},{"a":6.59,"m":0.07},{"a":6.62,"m":-0.13},{"a":6.65,"m":0.16},{"a":6.68,"m":0.02},{"a":6.71,"m":-0.3},{"a":6.74,"m":0.24},{"a":6.77,"m":-0.18},{"a":6.8,"m":0.1},{"a":6.83,"m":0.38},{"a":6.86,"m":-0.06},{"a":6.89,"m":-0.24},{"a":6.92,"m":0.15},{"a":6.95,"m":-0.36},{"a":6.98,"m":0.05},{"a":7.01,"m":0.24},{"a":7.04,"m":-0.12},{"a":7.07,"m":-0.02},{"a":7.1,"m":-0.27},{"a":7.13,"m":0.19},{"a":7.16,"m":0.36},{"a":7.19,"m":-0.09},{"a":7.22,"m":0.08},{"a":7.25,"m":-0.4},{"a":7.28,"m":-0.03},{"a":7.31,"m":0.14},{"a":7.34,"m":-0.2},{"a":7.37,"m":0.28},{"a":7.4,"m":0.0},{"a":7.43,"m":-0.28},{"a":7.46,"m":0.1},{"a":7.52,"m":-0.14},{"a":7.58,"m":0.2},{"a":7.64,"m":-0.23},{"a":7.7,"m":0.01},{"a":7.76,"m":-0.38},{"a":7.82,"m":0.26},{"a":7.88,"m":-0.08},{"a":7.94,"m":0.16},{"a":8.0,"m":-0.19},{"a":8.06,"m":0.05},{"a":8.12,"m":-0.13},{"a":8.15,"m":0.22},{"a":8.18,"m":-0.31},{"a":8.21,"m":0.01},{"a":8.24,"m":-0.23},{"a":8.27,"m":0.09},{"a":8.3,"m":0.33},{"a":8.33,"m":-0.13},{"a":8.36,"m":-0.5},{"a":8.39,"m":0.12},{"a":8.42,"m":-0.06},{"a":8.45,"m":0.27},{"a":8.48,"m":-0.21},{"a":8.51,"m":0.04},{"a":8.54,"m":-0.37},{"a":8.57,"m":-0.1},{"a":8.6,"m":0.16},{"a":8.63,"m":-0.24},{"a":8.66,"m":0.31},{"a":8.69,"m":0.0},{"a":8.72,"m":-0.17},{"a":8.75,"m":0.1},{"a":8.78,"m":-0.53},{"a":8.81,"m":-0.09},{"a":8.84,"m":0.24},{"a":8.87,"m":-0.28},{"a":8.9,"m":0.05},{"a":8.93,"m":-0.13},{"a":8.96,"m":0.17},{"a":8.99,"m":-0.41},{"a":9.02,"m":-0.03},{"a":9.05,"m":0.08},{"a":9.08,"m":-0.28},{"a":9.11,"m":0.24},{"a":9.14,"m":-0.15},{"a":9.17,"m":0.02},{"a":9.2,"m":-0.49},{"a":9.23,"m":0.15},{"a":9.26,"m":-0.1},{"a":9.29,"m":0.31},{"a":9.32,"m":-0.35},{"a":9.35,"m":0.05},{"a":9.38,"m":-0.19},{"a":9.41,"m":-0.03},{"a":9.44,"m":0.17},{"a":9.47,"m":-0.26},{"a":9.5,"m":0.06},{"a":9.53,"m":-0.43},{"a":9.56,"m":0.24},{"a":9.59,"m":-0.12},{"a":9.62,"m":0.03},{"a":9.65,"m":-0.24},{"a":9.68,"m":0.15},{"a":9.71,"m":-0.06},{"a":9.74,"m":-0.5},{"a":9.77,"m":0.28},{"a":9.8,"m":-0.18},{"a":9.83,"m":0.06},{"a":9.86,"m":-0.29},{"a":9.89,"m":0.17},{"a":9.92,"m":-0.02},{"a":9.95,"m":-0.4},{"a":9.98,"m":0.22},{"a":10.01,"m":-0.14},{"a":10.04,"m":0.04},{"a":10.07,"m":-0.23},{"a":10.1,"m":0.31},{"a":10.13,"m":-0.05},{"a":10.16,"m":0.11},{"a":10.19,"m":-0.52},{"a":10.22,"m":-0.13},{"a":10.25,"m":0.21},{"a":10.28,"m":-0.37},{"a":10.31,"m":0.07},{"a":10.34,"m":-0.06},{"a":10.37,"m":-0.24},{"a":10.4,"m":0.3},{"a":10.43,"m":-0.45},{"a":10.46,"m":0.13},{"a":10.49,"m":-0.12},{"a":10.54,"m":0.25},{"a":10.57,"m":-0.29},{"a":10.63,"m":0.1},{"a":10.69,"m":-0.38},{"a":10.75,"m":0.02},{"a":10.81,"m":-0.21},{"a":10.87,"m":0.2},{"a":10.93,"m":-0.12},{"a":10.99,"m":0.12},{"a":11.05,"m":-0.5},{"a":11.11,"m":0.16},{"a":11.17,"m":-0.28},{"a":11.23,"m":-0.03},{"a":11.29,"m":0.12}]},"layer":[{"data":{"name":"grid_minor_x"},"mark":{"type":"rule","color":"#EBEBEB","strokeWidth":1.3},"encoding":{"x":{"field":"v","type":"quantitative","scale":{"domain":[-0.98,16.55],"nice":false,"zero":false},"axis":{"title":"average log2(Intensity)","values":[0,5,10,15],"format":"d","grid":false,"domain":false,"ticks":true,"tickColor":"#333333","tickWidth":2,"tickSize":6,"labelFont":"Liberation Sans","labelFontSize":38,"labelColor":"#4D4D4D","labelPadding":10,"titleFont":"Liberation Sans","titleFontSize":50,"titleFontWeight":"normal","titleColor":"black","titlePadding":5}}}},{"data":{"name":"grid_minor_y"},"mark":{"type":"rule","color":"#EBEBEB","strokeWidth":1.3},"encoding":{"y":{"field":"v","type":"quantitative","scale":{"domain":[-2.725,3.087],"nice":false,"zero":false},"axis":{"title":"log2(Fold Change)","values":[-2,-1,0,1,2,3],"format":"d","grid":false,"domain":false,"ticks":true,"tickColor":"#333333","tickWidth":2,"tickSize":6,"labelFont":"Liberation Sans","labelFontSize":38,"labelColor":"#4D4D4D","labelPadding":10,"titleFont":"Liberation Sans","titleFontSize":49,"titleFontWeight":"normal","titleColor":"black","titlePadding":6}}}},{"data":{"name":"grid_major_x"},"mark":{"type":"rule","color":"#EBEBEB","strokeWidth":2.6},"encoding":{"x":{"field":"v","type":"quantitative"}}},{"data":{"name":"grid_major_y"},"mark":{"type":"rule","color":"#EBEBEB","strokeWidth":2.6},"encoding":{"y":{"field":"v","type":"quantitative"}}},{"data":{"name":"ns"},"mark":{"type":"point","filled":true,"color":"#7F7F7F","opacity":0.6,"size":66,"stroke":null},"encoding":{"x":{"field":"a","type":"quantitative"},"y":{"field":"m","type":"quantitative"}}},{"data":{"name":"zero"},"mark":{"type":"rule","color":"#7F7F7F","strokeWidth":3},"encoding":{"y":{"field":"v","type":"quantitative"}}},{"data":{"name":"sig"},"mark":{"type":"point","filled":true,"stroke":"black","strokeWidth":2.2,"opacity":1,"size":125},"encoding":{"x":{"field":"a","type":"quantitative"},"y":{"field":"m","type":"quantitative"},"fill":{"field":"s","type":"nominal","scale":{"domain":["Significant"],"range":["#FF0000"]},"legend":{"title":null,"orient":"none","legendX":704,"legendY":284,"labelFont":"Liberation Sans","labelFontSize":41,"labelColor":"black","labelOffset":32,"labelLimit":400,"symbolSize":125,"symbolStrokeColor":"black","symbolStrokeWidth":2.2,"symbolType":"circle","rowPadding":0}}}}]}
